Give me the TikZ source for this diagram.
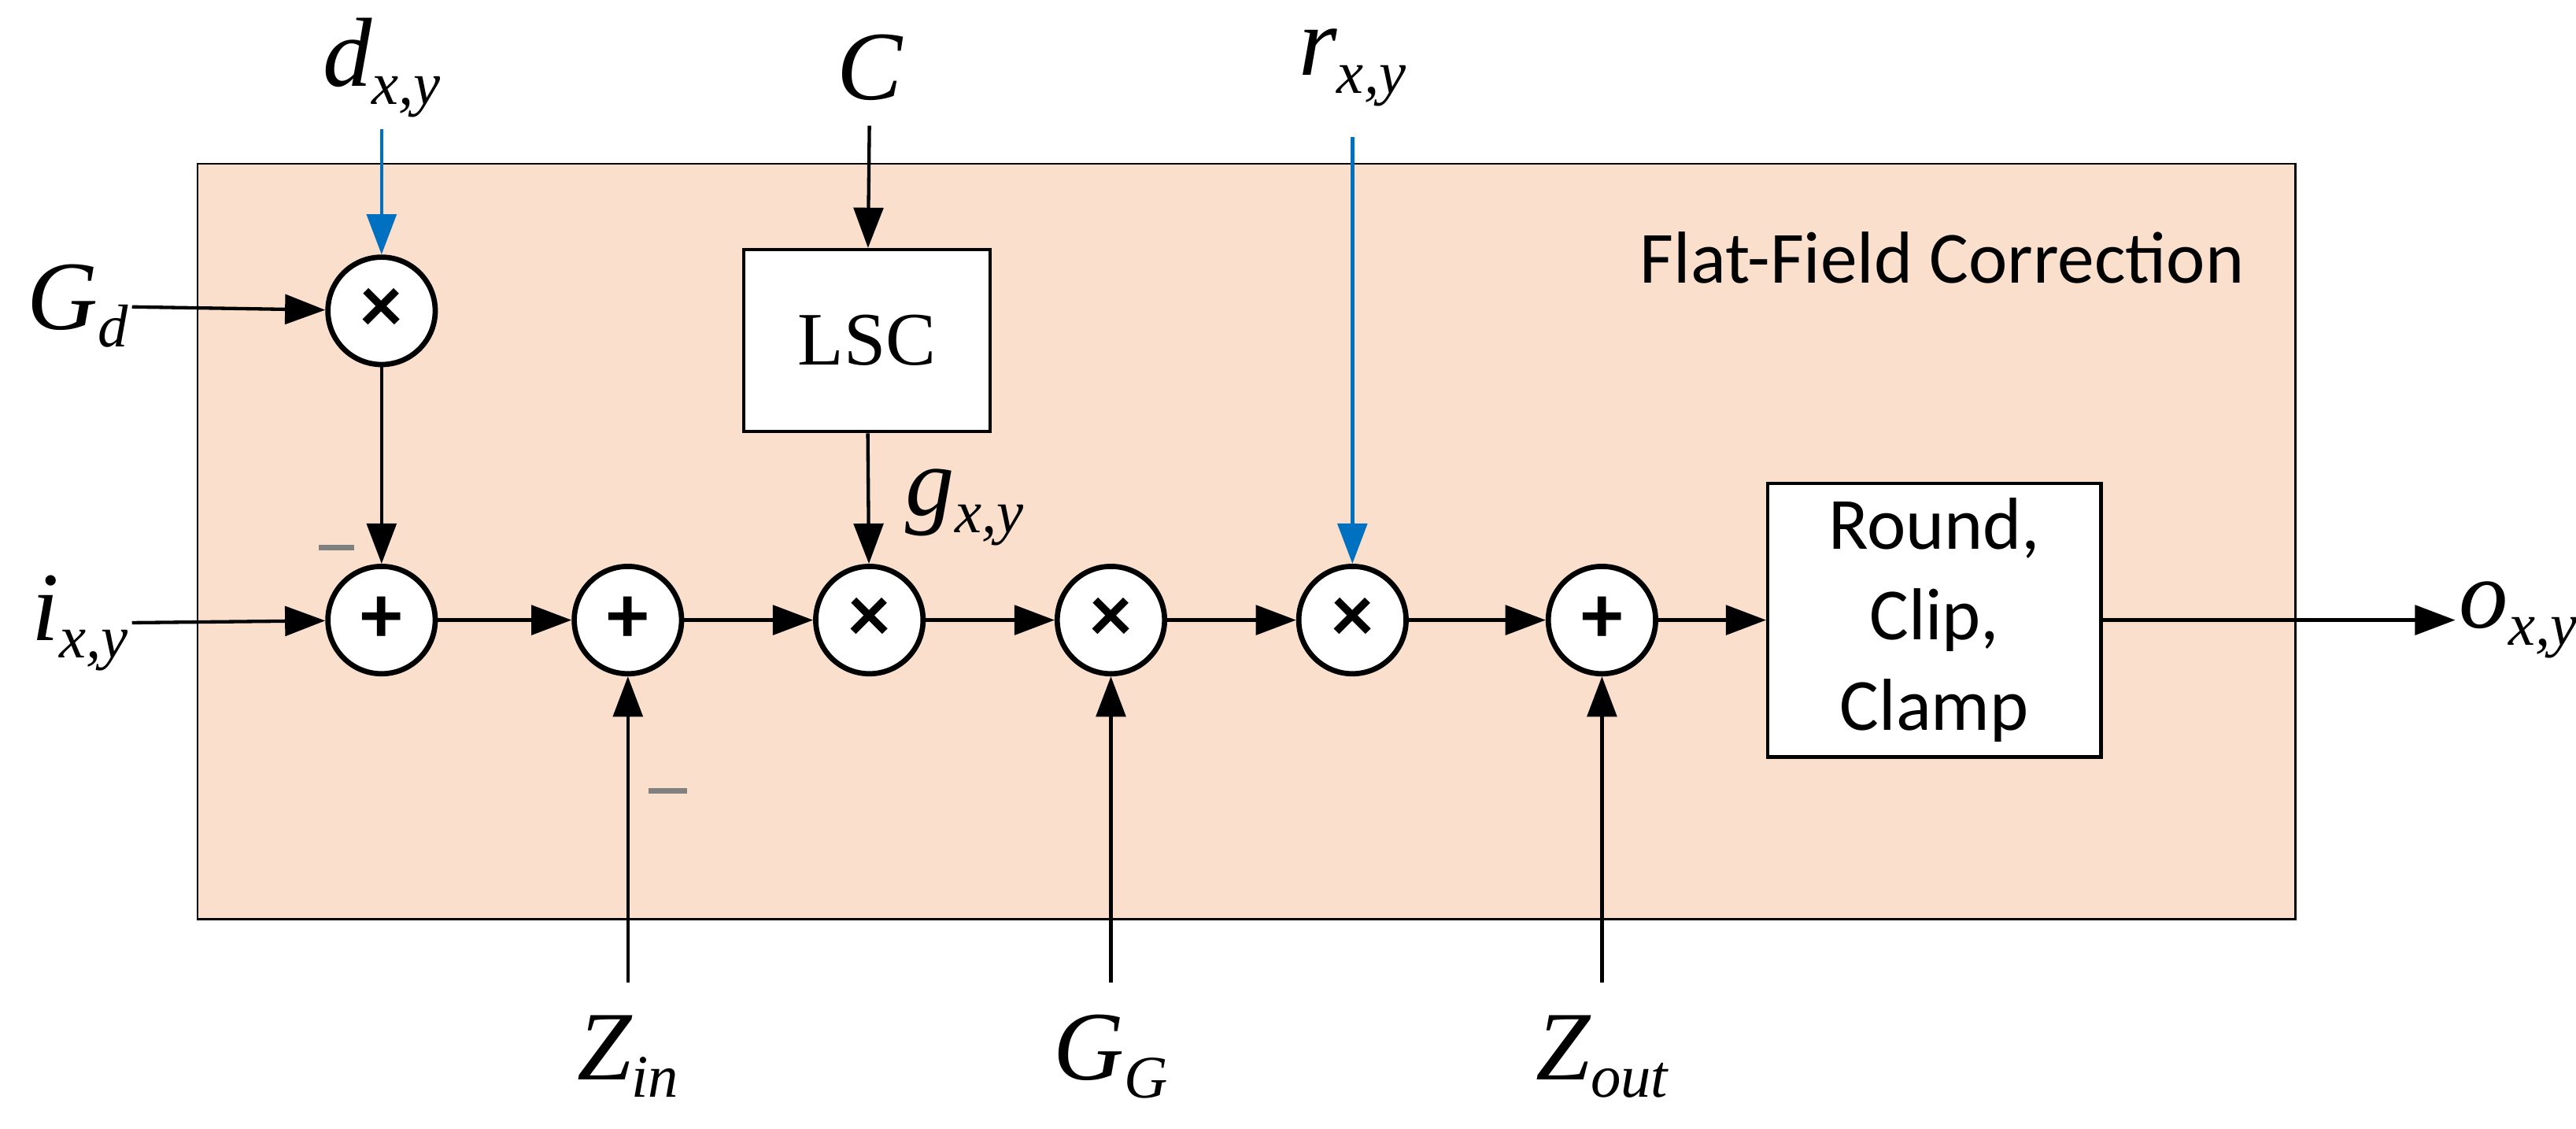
\documentclass[tikz,border=0pt]{standalone}
\usepackage{fontspec}
\setmainfont{Liberation Serif}
\newfontfamily\calfont{Carlito}
\usetikzlibrary{arrows.meta}
\definecolor{bgfill}{RGB}{250,223,204}
\definecolor{blueln}{RGB}{0,112,192}
\newcommand{\sbx}[1]{\raisebox{-0.18em}{\fontsize{32}{32}\selectfont #1}}
\begin{document}
\begin{tikzpicture}[x=0.03cm,y=-0.03cm,
 op/.style={circle,draw,line width=2.8pt,fill=white,minimum size=2.0cm,inner sep=0pt,font=\fontsize{44}{44}\selectfont\bfseries\calfont},
 box/.style={draw,line width=1.8pt,fill=white,inner sep=0pt},
 ar/.style={line width=1.8pt,-{Triangle[length=0.75cm,width=0.55cm]}},
 bar/.style={line width=1.8pt,blueln,-{Triangle[length=0.75cm,width=0.55cm]}},
 lab/.style={font=\fontsize{52}{52}\selectfont\itshape,inner sep=2pt},
 mn/.style={gray,line width=3pt}]
\useasboundingbox (0,0) rectangle (1600,700.7);
\node[draw,line width=1.2pt,fill=bgfill,minimum width=1303*0.03cm,minimum height=469*0.03cm,inner sep=0pt,anchor=north west] (bg) at (122,101) {};
\node[anchor=east,font=\fontsize{39}{39}\selectfont\calfont] (title) at (1398,160) {Flat-Field Correction};
\node[op] (m1) at (237,193) {×};
\node[op] (a1) at (237,385) {+};
\node[op] (a2) at (390,385) {+};
\node[op] (m2) at (540,385) {×};
\node[op] (m3) at (690,385) {×};
\node[op] (m4) at (840,385) {×};
\node[op] (a3) at (995,385) {+};
\node[box,minimum width=153*0.03cm,minimum height=113*0.03cm,font=\fontsize{40}{40}\selectfont] (lsc) at (538.5,211.5) {LSC};
\node[box,minimum width=207*0.03cm,minimum height=170*0.03cm,align=center,font=\fontsize{39}{48}\selectfont\calfont] (rc) at (1201.5,385) {Round,\\Clip,\\Clamp};
\node[lab] (d) at (237,42) {d\sbx{x,y}};
\node[lab] (c) at (540,42) {C};
\node[lab] (r) at (840,42) {r\sbx{x,y}};
\node[lab,anchor=east] (gd) at (82,190) {G\sbx{d}};
\node[lab,anchor=east] (i) at (82,387) {i\sbx{x,y}};
\node[lab,anchor=west] (o) at (1525,385) {o\sbx{x,y}};
\node[lab] (zin) at (390,656) {Z\sbx{in}};
\node[lab] (gg) at (690,656) {G\sbx{G}};
\node[lab] (zout) at (995,656) {Z\sbx{out}};
\node[lab,anchor=west] (g) at (560,315) {g\sbx{x,y}};
\coordinate (zint) at (390,610);
\coordinate (ggt) at (690,610);
\coordinate (zoutt) at (995,610);
\draw[bar] (237,80) -- (m1);
\draw[bar] (840,85) -- (m4);
\draw[ar] (540,78) -- (lsc);
\draw[ar] (gd) -- (m1);
\draw[ar] (m1) -- (a1);
\draw[ar] (i) -- (a1);
\draw[ar] (a1) -- (a2);
\draw[ar] (a2) -- (m2);
\draw[ar] (lsc) -- (m2);
\draw[ar] (m2) -- (m3);
\draw[ar] (m3) -- (m4);
\draw[ar] (m4) -- (a3);
\draw[ar] (a3) -- (rc);
\draw[ar] (rc) -- (o);
\draw[ar] (zint) -- (a2);
\draw[ar] (ggt) -- (m3);
\draw[ar] (zoutt) -- (a3);
\draw[mn] (198,340) -- (220,340);
\draw[mn] (403,491) -- (427,491);
\end{tikzpicture}
\end{document}
